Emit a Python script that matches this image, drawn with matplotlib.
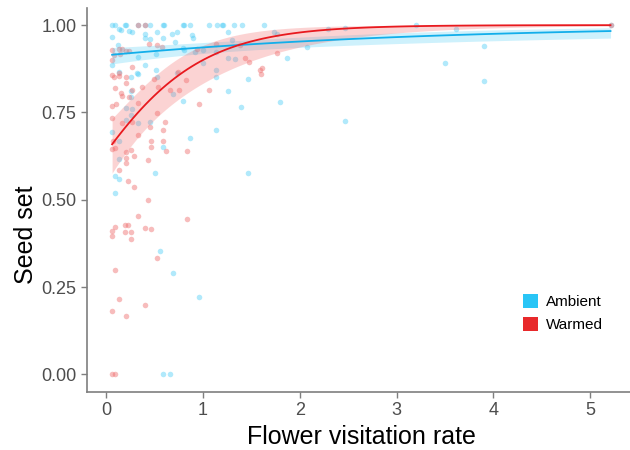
import matplotlib.pyplot as plt
import numpy as np
from matplotlib.patches import Patch

# ==============================
# Data
# ==============================
ambient_x = [0.06, 0.09, 0.19, 0.20, 0.33, 0.40, 0.45, 0.59, 0.60, 0.79, 0.80, 0.87,
             1.06, 1.14, 1.20, 1.21, 1.32, 1.40, 1.63, 3.20, 5.21,
             0.13, 0.15, 0.23, 0.27, 0.40, 0.52, 0.68, 0.73, 0.06, 0.40, 0.45, 0.59,
             0.71, 0.89, 0.90, 1.26, 1.30, 1.73, 1.76, 2.29, 2.47, 3.61,
             0.12, 0.79, 0.80, 0.51, 0.33, 0.40, 0.06, 0.32, 0.51, 0.13, 0.92, 1.00,
             1.13, 1.00, 1.26, 1.33, 1.13, 1.87, 2.07, 0.33, 0.26, 0.26, 0.26, 0.52,
             0.73, 0.69, 0.79, 0.20, 0.27, 0.26, 0.20, 0.33, 0.45, 0.06, 1.13, 1.46,
             1.26, 1.39, 1.80, 1.13, 0.87, 0.13, 0.13, 0.09, 0.13, 0.09, 0.50, 0.59,
             1.46, 2.47, 3.50, 3.90, 3.90, 0.56, 0.69, 0.96, 0.59, 0.66]
ambient_y = [1.0, 1.0, 1.0, 1.0, 1.0, 1.0, 1.0, 1.0, 1.0, 1.0, 1.0, 1.0,
             1.0, 1.0, 1.0, 1.0, 1.0, 1.0, 1.0, 1.0, 1.0,
             0.989, 0.987, 0.983, 0.981, 0.976, 0.981, 0.976, 0.981, 0.967, 0.962, 0.960, 0.962,
             0.952, 0.971, 0.964, 0.981, 0.957, 0.981, 0.974, 0.988, 0.991, 0.989,
             0.943, 0.935, 0.929, 0.916, 0.909, 0.886, 0.886, 0.862, 0.871, 0.867, 0.924, 0.929,
             0.922, 0.893, 0.905, 0.902, 0.871, 0.907, 0.938, 0.860, 0.851, 0.812, 0.793, 0.852,
             0.862, 0.803, 0.784, 0.762, 0.759, 0.743, 0.729, 0.721, 0.724, 0.695, 0.851, 0.845,
             0.812, 0.765, 0.781, 0.700, 0.676, 0.667, 0.617, 0.567, 0.560, 0.519, 0.576, 0.652,
             0.578, 0.726, 0.891, 0.940, 0.839, 0.354, 0.291, 0.222, 0.0, 0.0]

warmed_x = [0.33, 0.40, 5.21,
            0.06, 0.13, 0.16, 0.20, 0.23, 0.08, 0.14, 0.27, 0.06, 0.44, 0.52, 0.58,
            0.13, 0.74, 0.94, 1.13, 1.38, 1.43, 1.47, 1.59, 1.61, 1.76,
            0.06, 0.08, 0.13, 0.20, 0.09, 0.15, 0.16, 0.23, 0.20, 0.27, 0.06, 0.10,
            0.33, 0.37, 0.49, 0.53, 0.66, 0.75, 0.82, 0.52, 0.06, 0.16, 0.27, 0.45,
            0.61, 0.59, 0.33, 1.06, 0.96, 1.60,
            0.06, 0.09, 0.07, 0.20, 0.20, 0.20, 0.26, 0.29, 0.13, 0.22, 0.29, 0.43,
            0.46, 0.46, 0.59, 0.62, 0.83, 0.43,
            0.06, 0.06, 0.09, 0.19, 0.22, 0.19, 0.26, 0.26, 0.33, 0.40, 0.46, 0.83,
            0.52, 0.09, 0.13, 0.06, 0.20, 0.40, 0.06, 0.09]
warmed_y = [1.0, 1.0, 1.0,
            0.929, 0.933, 0.933, 0.926, 0.926, 0.914, 0.916, 0.881, 0.900, 0.945, 0.943, 0.938,
            0.862, 0.867, 0.933, 0.945, 0.943, 0.905, 0.895, 0.871, 0.876, 0.919,
            0.857, 0.851, 0.854, 0.851, 0.819, 0.805, 0.797, 0.795, 0.833, 0.814, 0.769, 0.774,
            0.778, 0.822, 0.845, 0.824, 0.814, 0.814, 0.843, 0.748, 0.733, 0.719, 0.724, 0.709,
            0.724, 0.700, 0.686, 0.814, 0.773, 0.860,
            0.646, 0.649, 0.667, 0.636, 0.619, 0.605, 0.643, 0.624, 0.586, 0.554, 0.538, 0.614,
            0.669, 0.651, 0.667, 0.640, 0.640, 0.500,
            0.412, 0.395, 0.421, 0.429, 0.429, 0.407, 0.407, 0.388, 0.454, 0.418, 0.416, 0.445,
            0.333, 0.300, 0.217, 0.181, 0.167, 0.200, 0.0, 0.0]

# logistic fits (logit scale): intercept, slope, and CI half-width shape
ambient_fit = [2.36, 0.326]
warmed_fit = [0.56, 1.64]
ambient_ci = [0.26, 0.176, 0.9]   # h0, h1, x at narrowest
warmed_ci = [0.34, 0.60, 0.2]

colors = {
    "ambient": "#12AEEA",
    "ambient_pt": "#3CC8F5",
    "warmed": "#E8191E",
    "warmed_pt": "#EE6B6B",
}


def inv_logit(z):
    return 1 / (1 + np.exp(-z))


def smooth(ax, xs, fit, ci, line_col, band_col, band_alpha):
    grid = np.linspace(min(xs), max(xs), 120)
    eta = fit[0] + fit[1] * grid
    half = np.sqrt(ci[0] ** 2 + (ci[1] * (grid - ci[2])) ** 2)
    ax.fill_between(grid, inv_logit(eta - half), inv_logit(eta + half),
                    color=band_col, alpha=band_alpha, linewidth=0)
    ax.plot(grid, inv_logit(eta), color=line_col, linewidth=1.3)


# ==============================
# Plot
# ==============================
plt.rcParams["font.family"] = ["Liberation Sans", "DejaVu Sans"]
fig = plt.figure(figsize=(6.3, 4.5), dpi=100)
ax = fig.add_axes([0.138, 0.129, 0.871, 0.854])

ax.scatter(ambient_x, ambient_y, s=16, color=colors["ambient_pt"], alpha=0.4, linewidths=0)
ax.scatter(warmed_x, warmed_y, s=16, color=colors["warmed_pt"], alpha=0.45, linewidths=0)

smooth(ax, ambient_x, ambient_fit, ambient_ci, colors["ambient"], "#3CC8F5", 0.25)
smooth(ax, warmed_x, warmed_fit, warmed_ci, colors["warmed"], "#F57070", 0.3)

ax.set_xlim(-0.2, 5.47)
ax.set_ylim(-0.05, 1.05)
ax.set_xticks([0, 1, 2, 3, 4, 5])
ax.set_yticks([0, 0.25, 0.5, 0.75, 1.0])
ax.set_yticklabels(["0.00", "0.25", "0.50", "0.75", "1.00"])

for side in ["top", "right"]:
    ax.spines[side].set_visible(False)
for side in ["left", "bottom"]:
    ax.spines[side].set_color("#7F7F7F")
    ax.spines[side].set_linewidth(1.2)
ax.tick_params(colors="#7F7F7F", labelcolor="#4D4D4D", labelsize=13, length=4, width=1)

ax.set_xlabel("Flower visitation rate", fontsize=18, color="black", labelpad=4)
ax.set_ylabel("Seed set", fontsize=18, color="black")
ax.yaxis.set_label_coords(-0.09, 0.41)

handles = [Patch(facecolor="#29C5F6", edgecolor="none", label="Ambient"),
           Patch(facecolor="#E8292B", edgecolor="none", label="Warmed")]
ax.legend(handles=handles, loc="center left", bbox_to_anchor=(0.77, 0.205),
          frameon=False, fontsize=11, handlelength=1.0, handleheight=1.0,
          handletextpad=0.5, labelspacing=0.5)

fig.savefig("out.png", dpi=100)
